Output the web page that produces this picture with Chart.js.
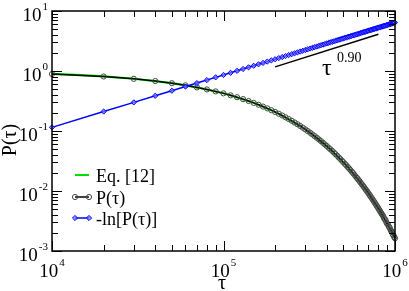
<!DOCTYPE html>
<html>
<head>
<meta charset="utf-8">
<script src="https://cdn.jsdelivr.net/npm/chart.js@4/dist/chart.umd.min.js"></script>
<style>
  html, body { margin: 0; padding: 0; background: #fff; }
</style>
</head>
<body>
<canvas id="survivalChart" width="409" height="291"></canvas>
<script>
// sampled times (tau)
const tau = [1e4, 2e4, 3e4, 4e4, 5e4, 6e4, 7e4, 8e4, 9e4, 10e4,
  11e4, 12e4, 13e4, 14e4, 15e4, 16e4, 17e4, 18e4, 19e4, 20e4,
  21e4, 22e4, 23e4, 24e4, 25e4, 26e4, 27e4, 28e4, 29e4, 30e4,
  31e4, 32e4, 33e4, 34e4, 35e4, 36e4, 37e4, 38e4, 39e4, 40e4,
  41e4, 42e4, 43e4, 44e4, 45e4, 46e4, 47e4, 48e4, 49e4, 50e4,
  51e4, 52e4, 53e4, 54e4, 55e4, 56e4, 57e4, 58e4, 59e4, 60e4,
  61e4, 62e4, 63e4, 64e4, 65e4, 66e4, 67e4, 68e4, 69e4, 70e4,
  71e4, 72e4, 73e4, 74e4, 75e4, 76e4, 77e4, 78e4, 79e4, 80e4,
  81e4, 82e4, 83e4, 84e4, 85e4, 86e4, 87e4, 88e4, 89e4, 90e4,
  91e4, 92e4, 93e4, 94e4, 95e4, 96e4, 97e4, 98e4, 99e4, 100e4];

// P(tau), black circles
const pTau = [0.891, 0.810, 0.741, 0.680, 0.626, 0.577, 0.533, 0.493, 0.457, 0.424,
  0.393, 0.3655, 0.3398, 0.3162, 0.2943, 0.2742, 0.2556, 0.2383, 0.2224, 0.2076,
  0.1938, 0.1811, 0.1693, 0.1582, 0.1480, 0.1385, 0.1296, 0.1214, 0.1136, 0.1065,
  0.0998, 0.0935, 0.0876, 0.0822, 0.0771, 0.0723, 0.0679, 0.0637, 0.0598, 0.0562,
  0.0527, 0.0496, 0.0466, 0.0438, 0.0411, 0.0387, 0.0363, 0.0342, 0.0321, 0.0302,
  0.0284, 0.0268, 0.0252, 0.0237, 0.0223, 0.0210, 0.0198, 0.0186, 0.0175, 0.0165,
  0.0156, 0.0147, 0.0138, 0.0130, 0.0123, 0.0116, 0.0109, 0.0103, 0.00971, 0.00916,
  0.00864, 0.00814, 0.00768, 0.00725, 0.00684, 0.00646, 0.00609, 0.00575, 0.00543, 0.00513,
  0.00484, 0.00457, 0.00432, 0.00408, 0.00390, 0.00360, 0.00338, 0.00330, 0.00301, 0.00285,
  0.00276, 0.00255, 0.00247, 0.00228, 0.00214, 0.00208, 0.00190, 0.00182, 0.00170, 0.00163];

// -ln[P(tau)], blue diamonds
const minusLnP = [0.115, 0.211, 0.300, 0.386, 0.469, 0.550, 0.629, 0.706, 0.783, 0.859,
  0.933, 1.007, 1.079, 1.152, 1.223, 1.294, 1.364, 1.434, 1.503, 1.572,
  1.641, 1.709, 1.776, 1.844, 1.910, 1.977, 2.043, 2.109, 2.175, 2.240,
  2.305, 2.370, 2.434, 2.499, 2.563, 2.626, 2.690, 2.753, 2.817, 2.880,
  2.942, 3.005, 3.067, 3.129, 3.191, 3.253, 3.315, 3.377, 3.438, 3.499,
  3.560, 3.621, 3.682, 3.742, 3.802, 3.863, 3.923, 3.983, 4.043, 4.102,
  4.162, 4.222, 4.281, 4.340, 4.400, 4.459, 4.517, 4.576, 4.635, 4.693,
  4.752, 4.811, 4.869, 4.927, 4.985, 5.042, 5.100, 5.158, 5.216, 5.273,
  5.331, 5.388, 5.445, 5.503, 5.547, 5.627, 5.690, 5.714, 5.806, 5.860,
  5.893, 5.972, 6.004, 6.084, 6.147, 6.175, 6.266, 6.309, 6.377, 6.419];

// Eq. [12] curve, green
const eqTau = [1e4, 1.5e4, 2e4, 3e4, 5e4, 7e4, 1e5, 1.5e5, 2e5, 3e5, 4e5, 5e5, 6e5, 7e5, 8e5, 9e5, 1e6];
const eq12 = [0.895, 0.851, 0.812, 0.743, 0.628, 0.535, 0.425, 0.295, 0.208, 0.1065,
  0.0560, 0.0300, 0.0164, 0.0091, 0.0051, 0.00288, 0.00163];

// guide line tau^0.90
const slopeTau = [2e5, 8e5];
const slopeVal = [1.17, 4.1];

const xExponents = ['4', '5', '6'];
const yExponents = ['1', '0', '-1', '-2', '-3'];
const legendLabels = ['Eq. [12]', 'P(\u03c4)', '-ln[P(\u03c4)]'];

const serif = '"Liberation Serif", "DejaVu Serif", serif';

function pts(xs, ys) {
  return xs.map((v, i) => ({ x: v, y: ys[i] }));
}

// draws "10" with a raised exponent
function drawPower(ctx, exp, x, base, align) {
  ctx.font = '19px ' + serif;
  const wBase = ctx.measureText('10').width;
  ctx.font = '11px ' + serif;
  const wExp = ctx.measureText(exp).width;
  let left;
  if (align === 'right') left = x - wBase - wExp - 1;
  else left = x - (wBase + wExp + 1) / 2;
  ctx.textAlign = 'left';
  ctx.textBaseline = 'alphabetic';
  ctx.font = '19px ' + serif;
  ctx.fillText('10', left, base);
  ctx.font = '11px ' + serif;
  ctx.fillText(exp, left + wBase + 1, base - 11);
}

function circle(ctx, x, y, r) {
  ctx.beginPath();
  ctx.arc(x, y, r, 0, Math.PI * 2);
  ctx.stroke();
}

function diamond(ctx, x, y, r) {
  ctx.beginPath();
  ctx.moveTo(x, y - r); ctx.lineTo(x + r, y); ctx.lineTo(x, y + r); ctx.lineTo(x - r, y);
  ctx.closePath();
  ctx.fill();
  ctx.stroke();
}

const decorations = {
  id: 'decorations',
  afterDatasetsDraw(chart) {
    const { ctx, chartArea: a, scales: { x, y } } = chart;
    ctx.save();

    // frame
    ctx.strokeStyle = '#000';
    ctx.lineWidth = 1.5;
    ctx.strokeRect(a.left, a.top, a.right - a.left, a.bottom - a.top);

    // inward ticks, all four sides
    ctx.lineWidth = 1;
    ctx.beginPath();
    for (let e = 4; e <= 6; e++) {
      for (let m = 1; m <= 9; m++) {
        const v = m * Math.pow(10, e);
        if (v < x.min || v > x.max) continue;
        const px = Math.round(x.getPixelForValue(v)) + 0.5;
        const len = m === 1 ? 10 : 6;
        ctx.moveTo(px, a.bottom); ctx.lineTo(px, a.bottom - len);
        ctx.moveTo(px, a.top); ctx.lineTo(px, a.top + len);
      }
    }
    for (let e = -3; e <= 1; e++) {
      for (let m = 1; m <= 9; m++) {
        const v = m * Math.pow(10, e);
        if (v < y.min * 0.999 || v > y.max * 1.001) continue;
        const py = Math.round(y.getPixelForValue(v)) + 0.5;
        const len = m === 1 ? 10 : 6;
        ctx.moveTo(a.left, py); ctx.lineTo(a.left + len, py);
        ctx.moveTo(a.right, py); ctx.lineTo(a.right - len, py);
      }
    }
    ctx.stroke();

    // tick labels
    ctx.fillStyle = '#000';
    xExponents.forEach(exp => {
      const px = x.getPixelForValue(Math.pow(10, Number(exp)));
      drawPower(ctx, exp, px, 277, 'center');
    });
    yExponents.forEach(exp => {
      const py = y.getPixelForValue(Math.pow(10, Number(exp)));
      drawPower(ctx, exp, 48, py + 9.5, 'right');
    });

    // axis titles
    ctx.font = '20px ' + serif;
    ctx.textAlign = 'center';
    ctx.textBaseline = 'alphabetic';
    ctx.fillText('\u03c4', 222, 289);
    ctx.save();
    ctx.translate(16, 140);
    ctx.rotate(-Math.PI / 2);
    ctx.fillText('P(\u03c4)', 0, 0);
    ctx.restore();

    // slope label
    ctx.textAlign = 'left';
    ctx.font = '24px ' + serif;
    ctx.fillText('\u03c4', 322, 75);
    ctx.font = '14px ' + serif;
    ctx.fillText('0.90', 337, 62);

    // legend
    const rows = [175, 197, 218];
    ctx.font = '18px ' + serif;
    ctx.textBaseline = 'alphabetic';
    legendLabels.forEach((label, i) => {
      const ly = rows[i];
      ctx.lineWidth = i === 0 ? 2 : 1.5;
      ctx.strokeStyle = ['#00e000', '#000', '#0000ff'][i];
      ctx.beginPath();
      ctx.moveTo(75, ly); ctx.lineTo(89, ly);
      ctx.stroke();
      if (i === 1) {
        ctx.lineWidth = 1; ctx.strokeStyle = '#444';
        circle(ctx, 75, ly, 2.6); circle(ctx, 89, ly, 2.6);
      } else if (i === 2) {
        ctx.lineWidth = 1; ctx.fillStyle = 'rgba(120,120,255,0.7)';
        diamond(ctx, 75, ly, 2.6); diamond(ctx, 89, ly, 2.6);
      }
      ctx.fillStyle = '#000';
      ctx.fillText(label, 96, ly + 7);
    });

    ctx.restore();
  }
};

new Chart(document.getElementById('survivalChart'), {
  type: 'line',
  data: {
    datasets: [
      {
        label: 'tau^0.90',
        data: pts(slopeTau, slopeVal),
        borderColor: '#000',
        borderWidth: 1.5,
        pointRadius: 0,
        order: 4
      },
      {
        label: legendLabels[0],
        data: pts(eqTau, eq12),
        borderColor: '#00e000',
        borderWidth: 2.2,
        pointRadius: 0,
        order: 3
      },
      {
        label: legendLabels[1],
        data: pts(tau, pTau),
        borderColor: '#000',
        borderWidth: 1.5,
        pointStyle: 'circle',
        pointRadius: 2.6,
        pointBorderWidth: 1,
        pointBorderColor: '#444',
        pointBackgroundColor: 'rgba(0,0,0,0)',
        clip: false,
        order: 2
      },
      {
        label: legendLabels[2],
        data: pts(tau, minusLnP),
        borderColor: '#0000ff',
        borderWidth: 1.5,
        pointStyle: 'rectRot',
        pointRadius: 2.6,
        pointBorderWidth: 1,
        pointBorderColor: '#0000ff',
        pointBackgroundColor: 'rgba(120,120,255,0.7)',
        clip: false,
        order: 1
      }
    ]
  },
  options: {
    responsive: false,
    animation: false,
    layout: { padding: { left: 52, right: 14, top: 11, bottom: 40 } },
    scales: {
      x: { type: 'logarithmic', min: 1e4, max: 1e6, display: false },
      y: { type: 'logarithmic', min: 1e-3, max: 10, display: false }
    },
    plugins: {
      legend: { display: false },
      tooltip: { enabled: false }
    }
  },
  plugins: [decorations]
});
</script>
</body>
</html>
